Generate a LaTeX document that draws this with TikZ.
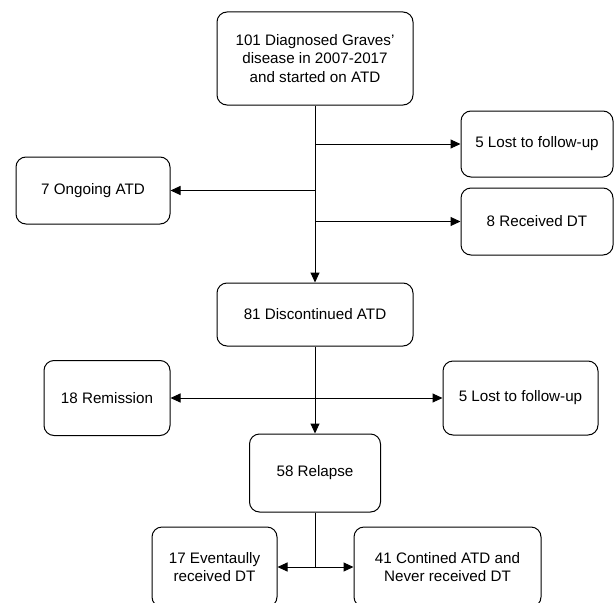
\documentclass[tikz,border=0pt]{standalone}
\usepackage{fontspec}
\setmainfont{Liberation Sans}
\usetikzlibrary{arrows.meta}
\begin{document}
\begin{tikzpicture}[x=1pt, y=-1pt, every node/.style={font=\fontsize{15.2}{18.5}\selectfont},
  flowbox/.style={draw, line width=1pt, rounded corners=10pt, align=center, inner sep=0pt},
  flow/.style={line width=1pt, -{Triangle[length=10pt,width=9pt]}},
  twoway/.style={line width=1pt, {Triangle[length=10pt,width=9pt]}-{Triangle[length=10pt,width=9pt]}}]
  \useasboundingbox (0,0) rectangle (615,602);
  \clip (0,0) rectangle (615,602);
  \node[flowbox, minimum width=196pt, minimum height=93pt] (graves) at (315,58.5) {101 Diagnosed Graves'\\ disease in 2007-2017\\ and started on ATD};
  \node[flowbox, minimum width=152pt, minimum height=66pt] (lostA) at (537,144) {5 Lost to follow-up};
  \node[flowbox, minimum width=154pt, minimum height=67pt] (ongoing) at (93,190.5) {7 Ongoing ATD};
  \node[flowbox, minimum width=152pt, minimum height=67pt] (received) at (537,221.5) {8 Received DT};
  \node[flowbox, minimum width=196pt, minimum height=63pt] (discont) at (315,314.5) {81 Discontinued ATD};
  \node[flowbox, minimum width=126pt, minimum height=75pt] (remission) at (107,398) {18 Remission};
  \node[flowbox, minimum width=155pt, minimum height=74pt] (lostB) at (520.5,398) {5 Lost to follow-up};
  \node[flowbox, minimum width=131pt, minimum height=78pt] (relapse) at (315,473) {58 Relapse};
  \node[flowbox, minimum width=125pt, minimum height=80pt] (eventual) at (214.5,567) {17 Eventaully\\ received DT};
  \node[flowbox, minimum width=187pt, minimum height=80pt] (contined) at (447.5,567) {41 Contined ATD and\\ Never received DT};
  % branches off the first trunk
  \draw[flow] (graves) -- (discont);
  \draw[flow] (graves.south |- lostA.west) -- (lostA.west);
  \draw[flow] (graves.south |- ongoing.east) -- (ongoing.east);
  \draw[flow] (graves.south |- received.west) -- (received.west);
  % after discontinuation
  \draw[flow] (discont) -- (relapse);
  \draw[twoway] (remission.east) -- (lostB.west);
  \coordinate (split) at (relapse.south |- eventual.east);
  \draw[line width=1pt] (relapse.south) -- (split);
  \draw[twoway] (eventual.east) -- (contined.west);
\end{tikzpicture}
\end{document}
